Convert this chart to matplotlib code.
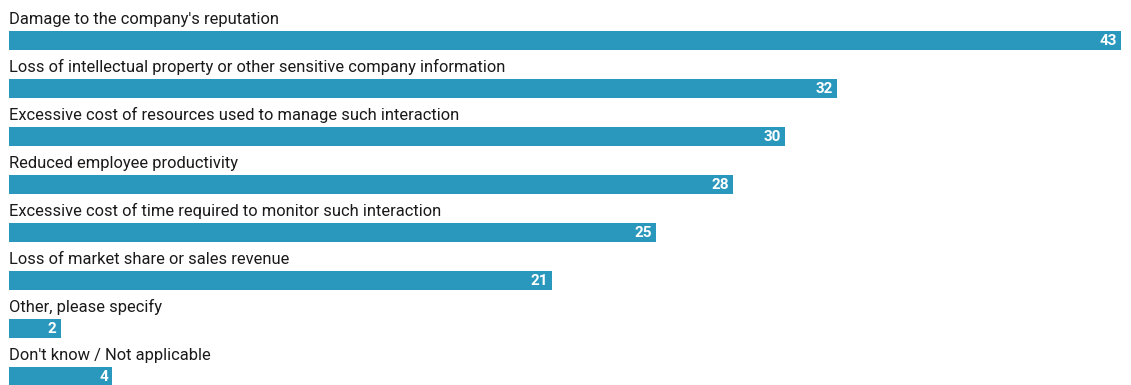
import matplotlib
matplotlib.use("Agg")
import matplotlib.pyplot as plt

categories = [
    "Damage to the company's reputation",
    "Loss of intellectual property or other sensitive company information",
    "Excessive cost of resources used to manage such interaction",
    "Reduced employee productivity",
    "Excessive cost of time required to monitor such interaction",
    "Loss of market share or sales revenue",
    "Other, please specify",
    "Don't know / Not applicable",
]
values = [43, 32, 30, 28, 25, 21, 2, 4]

BAR_COLOR = "#2a98bd"
W, H = 1131, 385

fig = plt.figure(figsize=(W / 100, H / 100), dpi=100)
ax = fig.add_axes([0, 0, 1, 1])

# Horizontal scale: 0 sits 9px from the left edge, the longest bar ends near the right edge
px_per_unit = 1112 / 43
ax.set_xlim(-9 / px_per_unit, (W - 9) / px_per_unit)
# Vertical axis in pixel rows, top to bottom
ax.set_ylim(H, 0)
ax.axis("off")

row_step = 48
bar_h = 19
first_top = 31

for i, (cat, val) in enumerate(zip(categories, values)):
    top = first_top + i * row_step
    center = top + bar_h / 2
    ax.barh(center, val, height=bar_h, left=0, color=BAR_COLOR, edgecolor="none")
    ax.text(0, top - 7, cat, ha="left", va="baseline", fontsize=11.9,
            family="Roboto", color="#1a1a1a")
    ax.text(val - 4 / px_per_unit, center + 0.5, str(val), ha="right", va="center",
            fontsize=11, fontweight="bold", family="Roboto", color="white")

fig.savefig("out.png", dpi=100)
